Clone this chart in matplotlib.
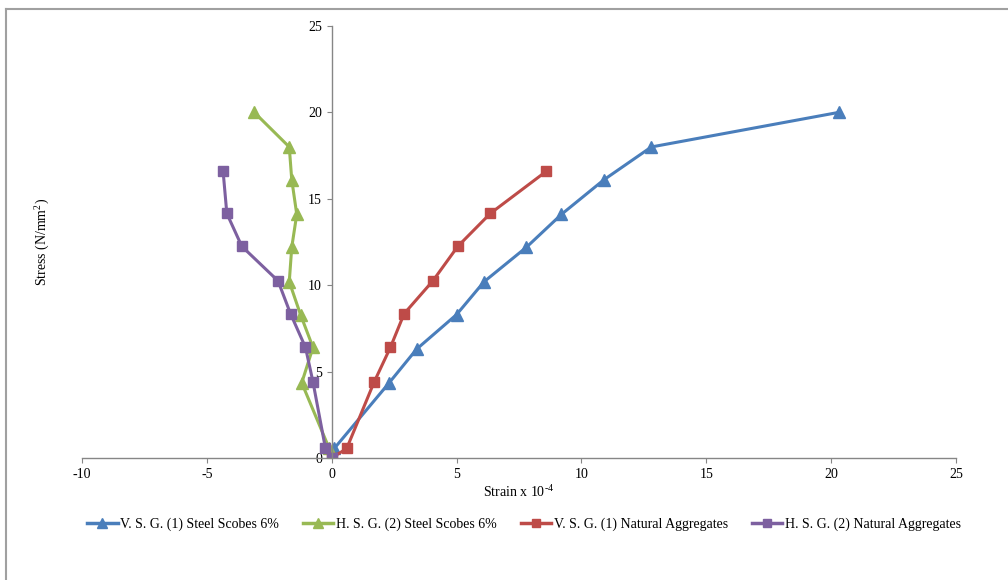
import matplotlib.pyplot as plt
from matplotlib.lines import Line2D

plt.rcParams['font.family'] = ['Liberation Serif', 'DejaVu Serif']
plt.rcParams['axes.unicode_minus'] = False
plt.rcParams['mathtext.fontset'] = 'custom'
plt.rcParams['mathtext.rm'] = 'Liberation Serif'

# strain x 10^-4 and stress (N/mm2)
vsg_steel_x = [0, 0.1, 2.3, 3.4, 5.0, 6.1, 7.8, 9.2, 10.9, 12.8, 20.3]
vsg_steel_y = [0, 0.55, 4.35, 6.3, 8.3, 10.2, 12.2, 14.1, 16.1, 18.0, 20.0]

hsg_steel_x = [0, -0.1, -1.2, -0.75, -1.25, -1.7, -1.6, -1.4, -1.6, -1.7, -3.1]
hsg_steel_y = [0, 0.55, 4.35, 6.4, 8.3, 10.2, 12.2, 14.1, 16.1, 18.0, 20.0]

vsg_nat_x = [0, 0.6, 1.7, 2.35, 2.9, 4.05, 5.05, 6.35, 8.6]
vsg_nat_y = [0, 0.55, 4.4, 6.4, 8.35, 10.25, 12.25, 14.15, 16.6]

hsg_nat_x = [0, -0.25, -0.75, -1.05, -1.65, -2.15, -3.6, -4.2, -4.35]
hsg_nat_y = [0, 0.55, 4.4, 6.4, 8.35, 10.25, 12.25, 14.15, 16.6]

labels = ['V. S. G. (1) Steel Scobes 6%', 'H. S. G. (2) Steel Scobes 6%',
          'V. S. G. (1) Natural Aggregates', 'H. S. G. (2) Natural Aggregates']
colors = ['#4a7ebb', '#98b954', '#be4b48', '#7d60a0']

fig = plt.figure(figsize=(10.08, 5.8), dpi=100)
ax = fig.add_axes([82 / 1008, 1 - 458 / 580, (956 - 82) / 1008, (458 - 26) / 580])

ax.plot(vsg_steel_x, vsg_steel_y, color=colors[0], lw=2.2, marker='^', ms=8.5)
ax.plot(hsg_steel_x, hsg_steel_y, color=colors[1], lw=2.2, marker='^', ms=8.5)
ax.plot(vsg_nat_x, vsg_nat_y, color=colors[2], lw=2.2, marker='s', ms=7)
ax.plot(hsg_nat_x, hsg_nat_y, color=colors[3], lw=2.2, marker='s', ms=7)

ax.set_xlim(-10, 25)
ax.set_ylim(0, 25)
ax.set_xticks(range(-10, 26, 5))
ax.set_yticks(range(0, 26, 5))

# Excel style crossing axes
ax.spines['left'].set_position(('data', 0))
ax.spines['right'].set_visible(False)
ax.spines['top'].set_visible(False)
for s in ['left', 'bottom']:
    ax.spines[s].set_color('#868686')
    ax.spines[s].set_linewidth(1)
ax.tick_params(colors='#868686', labelcolor='black', labelsize=10, length=3.5, direction='out')

ax.set_xlabel(r'Strain x 10$^{\text{-}4}$', fontsize=10, labelpad=2)
fig.text(42 / 1008, 1 - 242 / 580, 'Stress (N/mm$^{2}$)', rotation=90,
         ha='center', va='center', fontsize=10)

handles = [Line2D([], [], color=colors[0], lw=2.5, marker='^', ms=7),
           Line2D([], [], color=colors[1], lw=2.5, marker='^', ms=7),
           Line2D([], [], color=colors[2], lw=2.5, marker='s', ms=6),
           Line2D([], [], color=colors[3], lw=2.5, marker='s', ms=6)]
fig.legend(handles, labels, loc='center', bbox_to_anchor=(524 / 1008, 1 - 524 / 580),
           ncol=4, frameon=False, fontsize=10, handlelength=2.2, handletextpad=0.2,
           columnspacing=1.7)

# chart area border (top and left)
fig.add_artist(Line2D([6 / 1008, 1], [1 - 9 / 580, 1 - 9 / 580], color='#a0a0a0', lw=1.5))
fig.add_artist(Line2D([6 / 1008, 6 / 1008], [0, 1 - 9 / 580], color='#a0a0a0', lw=1.5))

fig.savefig('out.png', dpi=100)
